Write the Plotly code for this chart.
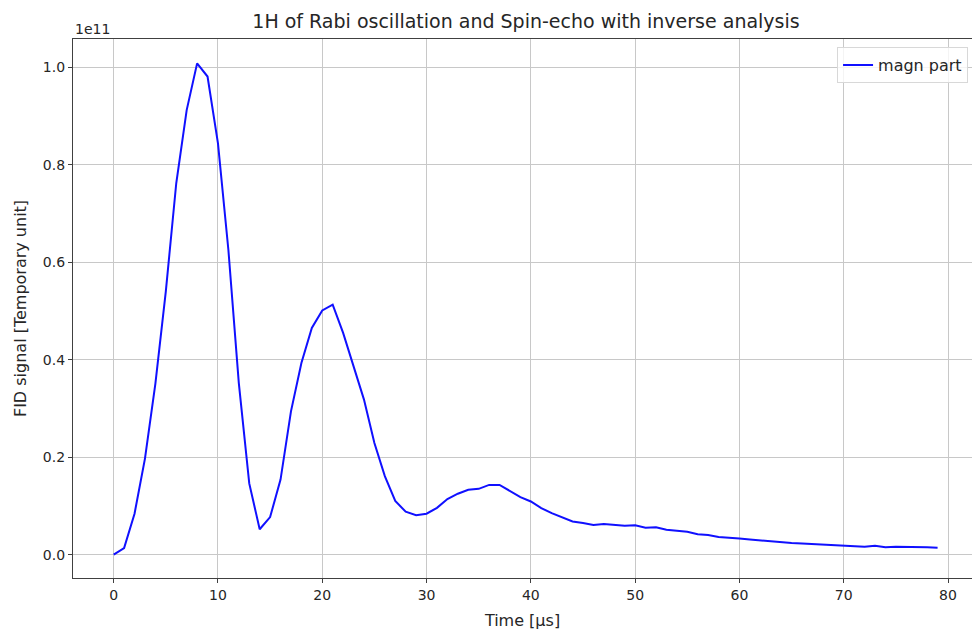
import plotly.graph_objects as go

time_us = list(range(80))
# FID signal in units of 1e11
signal = [
    0.000, 0.0135, 0.084, 0.197, 0.351, 0.540, 0.762, 0.912, 1.008, 0.981,
    0.844, 0.625, 0.352, 0.146, 0.052, 0.077, 0.154, 0.294, 0.393, 0.465,
    0.501, 0.513, 0.455, 0.386, 0.318, 0.229, 0.161, 0.110, 0.088, 0.081,
    0.084, 0.096, 0.114, 0.125, 0.133, 0.135, 0.143, 0.143, 0.130, 0.118,
    0.109, 0.0955, 0.085, 0.076, 0.068, 0.065, 0.061, 0.063, 0.061, 0.059,
    0.060, 0.055, 0.056, 0.051, 0.049, 0.047, 0.042, 0.040, 0.036, 0.035,
    0.033, 0.031, 0.029, 0.027, 0.025, 0.024, 0.023, 0.022, 0.020, 0.019,
    0.018, 0.017, 0.016, 0.018, 0.015, 0.016, 0.016, 0.0157, 0.015, 0.014,
]
x_ticks = [0, 10, 20, 30, 40, 50, 60, 70, 80]
y_ticks = [0.0, 0.2, 0.4, 0.6, 0.8, 1.0]

font = "DejaVu Sans"
txt = "#262626"
fig = go.Figure()
fig.add_trace(go.Scatter(x=time_us, y=signal, mode="lines", name="magn part",
                         line=dict(color="#1010ff", width=2)))

axis_common = dict(showline=True, mirror=True, linecolor="#404040", linewidth=1.3,
                   showgrid=True, gridcolor="#c8c8c8", gridwidth=1,
                   ticks="outside", ticklen=4, tickcolor="#404040",
                   zeroline=False, tickfont=dict(family=font, size=14, color=txt))

fig.update_layout(
    width=972, height=630,
    margin=dict(l=73, r=0, t=39, b=52),
    plot_bgcolor="white", paper_bgcolor="white",
    title=dict(text="1H of Rabi oscillation and Spin-echo with inverse analysis",
               x=526/972, xref="container", xanchor="center",
               y=1-21/630, yref="container", yanchor="middle",
               font=dict(family=font, size=19, color=txt)),
    xaxis=dict(range=[-3.9, 82.3], tickvals=x_ticks,
               title=dict(text="Time [µs]", font=dict(family=font, size=16, color=txt), standoff=13),
               **axis_common),
    yaxis=dict(range=[-0.048, 1.058], tickvals=y_ticks, ticktext=[f"{v:.1f}" for v in y_ticks],
               title=dict(text="FID signal [Temporary unit]", font=dict(family=font, size=16, color=txt), standoff=12),
               **axis_common),
    legend=dict(x=0.9956, y=0.985, xanchor="right", yanchor="top",
                bgcolor="rgba(255,255,255,0.8)", bordercolor="#d8d8d8", borderwidth=1,
                font=dict(family=font, size=16, color=txt)),
    showlegend=True,
)
fig.add_annotation(text="1e11", xref="paper", yref="paper", x=0, y=1, xanchor="left",
                   yanchor="bottom", showarrow=False, yshift=0,
                   font=dict(family=font, size=14, color=txt))

fig.write_html("out.html")
